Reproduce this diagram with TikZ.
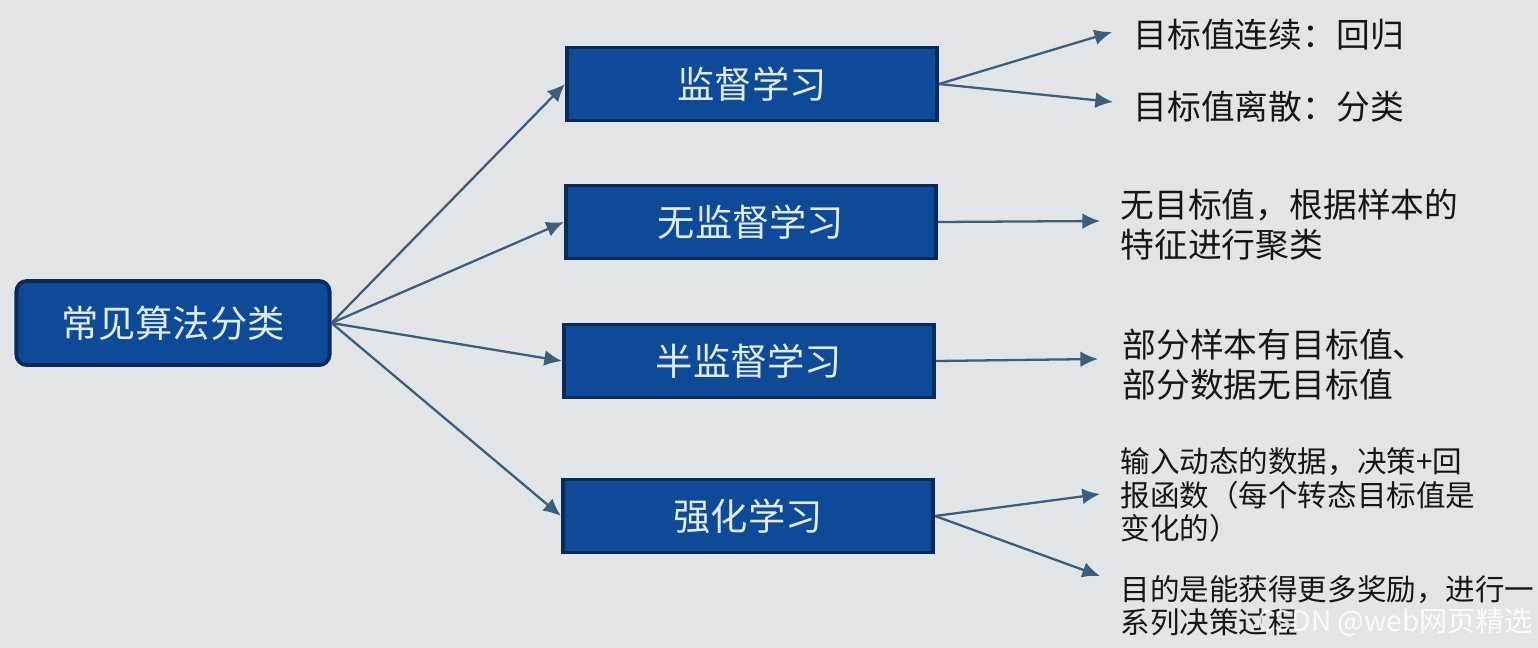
\documentclass[tikz,border=0pt]{standalone}
\usepackage{fontspec}
\setmainfont{Noto Sans CJK SC}
\usetikzlibrary{arrows.meta}
\definecolor{screengray}{RGB}{226,229,231}
\definecolor{boxblue}{RGB}{14,74,152}
\definecolor{boxedge}{RGB}{10,42,92}
\definecolor{boxtext}{RGB}{224,236,246}
\definecolor{linkblue}{RGB}{62,92,124}
\definecolor{inktext}{RGB}{22,22,26}

\tikzset{
  catbox/.style={draw=boxedge, line width=1.1pt, fill=boxblue, text=boxtext,
    minimum width=3.7cm, minimum height=0.73cm, inner sep=0pt,
    font=\fontsize{10.6}{12}\selectfont},
  note/.style={anchor=west, align=left, inner sep=0pt, text=inktext,
    font=\fontsize{9.6}{11.4}\selectfont},
  smallnote/.style={note, font=\fontsize{8.4}{9.5}\selectfont},
  link/.style={draw=linkblue, line width=0.65pt, -{Latex[length=5pt,width=4.5pt]}},
}

\begin{document}
\begin{tikzpicture}[x=0.01cm, y=-0.01cm]
  \fill[screengray] (0,0) rectangle (1538,648);

  % left: the category root
  \node[catbox, rounded corners=3pt, minimum width=3.13cm, minimum height=0.84cm] (root) at (173,323) {常见算法分类};

  % middle: the four kinds of learning
  \node[catbox] (sup)   at (752,84)  {监督学习};
  \node[catbox] (unsup) at (751,222) {无监督学习};
  \node[catbox] (semi)  at (749,361) {半监督学习};
  \node[catbox] (rl)    at (748,516) {强化学习};

  \draw[link] (root.east) -- (sup.west);
  \draw[link] (root.east) -- (unsup.west);
  \draw[link] (root.east) -- (semi.west);
  \draw[link] (root.east) -- (rl.west);

  % right: notes
  \node[note] (reg)   at (1133,35)  {目标值连续：回归};
  \node[note] (cls)   at (1133,107) {目标值离散：分类};
  \node[note] (clu)   at (1120,225) {无目标值，根据样本的\\特征进行聚类};
  \node[note] (part)  at (1122,365) {部分样本有目标值、\\部分数据无目标值};
  \node[smallnote] (dyn)  at (1120,495) {输入动态的数据，决策+回\\报函数（每个转态目标值是\\变化的）};
  \node[smallnote] (goal) at (1120,606) {目的是能获得更多奖励，进行一\\系列决策过程};

  \coordinate (toreg)  at (1112,32);
  \coordinate (tocls)  at (1113,102);
  \coordinate (toclu)  at (1100,221);
  \coordinate (topart) at (1098,359);
  \coordinate (todyn)  at (1100,494);
  \coordinate (togoal) at (1100,576);

  \draw[link] (sup.east) -- (toreg);
  \draw[link] (sup.east) -- (tocls);
  \draw[link] (unsup.east) -- (toclu);
  \draw[link] (semi.east) -- (topart);
  \draw[link] (rl.east) -- (todyn);
  \draw[link] (rl.east) -- (togoal);

  \node[anchor=east, inner sep=0pt, text=white, opacity=0.85,
    font=\fontsize{8}{9}\selectfont] (mark) at (1533,622) {CSDN @web网页精选};
\end{tikzpicture}
\end{document}
